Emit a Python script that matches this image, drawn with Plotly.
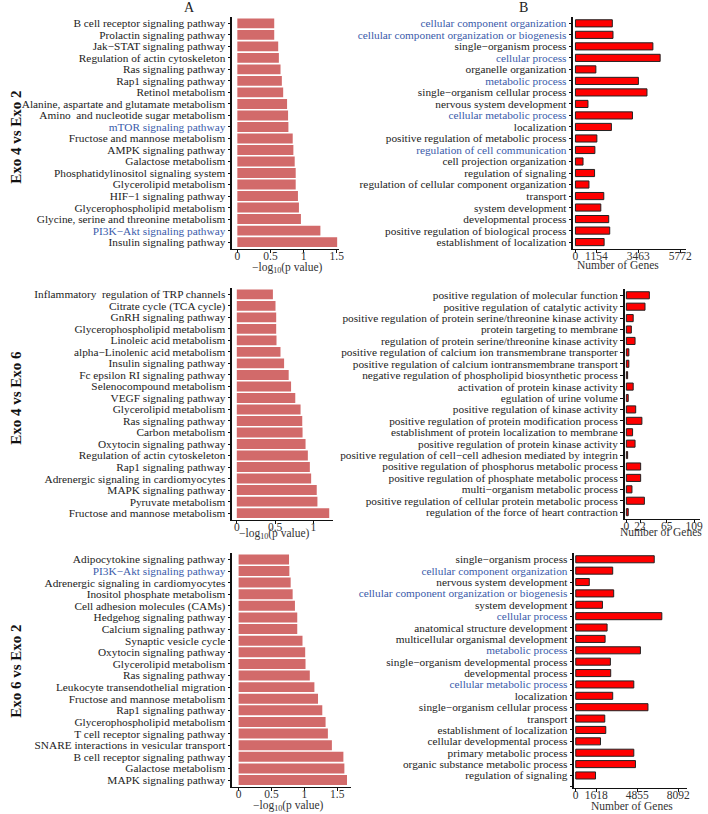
import plotly.graph_objects as go

W, H = 708, 814
BLUE = "#3A5BAA"

# ---------------- data ----------------
r1_left_terms = ["B cell receptor signaling pathway", "Prolactin signaling pathway", "Jak−STAT signaling pathway",
                 "Regulation of actin cytoskeleton", "Ras signaling pathway", "Rap1 signaling pathway",
                 "Retinol metabolism", "Alanine, aspartate and glutamate metabolism",
                 "Amino\u00a0 and nucleotide sugar metabolism", "mTOR signaling pathway",
                 "Fructose and mannose metabolism", "AMPK signaling pathway", "Galactose metabolism",
                 "Phosphatidylinositol signaling system", "Glycerolipid metabolism", "HIF−1 signaling pathway",
                 "Glycerophospholipid metabolism", "Glycine, serine and threonine metabolism",
                 "PI3K−Akt signaling pathway", "Insulin signaling pathway"]
r1_left_vals = [0.557, 0.557, 0.617, 0.627, 0.652, 0.672, 0.692, 0.751, 0.766, 0.771,
                0.836, 0.846, 0.866, 0.881, 0.881, 0.915, 0.930, 0.960, 1.254, 1.507]
r1_left_blue = ["mTOR signaling pathway", "PI3K−Akt signaling pathway"]

r1_right_terms = ["cellular component organization", "cellular component organization or biogenesis",
                  "single−organism process", "cellular process", "organelle organization", "metabolic process",
                  "single−organism cellular process", "nervous system development", "cellular metabolic process",
                  "localization", "positive regulation of metabolic process", "regulation of cell communication",
                  "cell projection organization", "regulation of signaling",
                  "regulation of cellular component organization", "transport", "system development",
                  "developmental process", "positive regulation of biological process",
                  "establishment of localization"]
r1_right_vals = [2031, 2068, 4265, 4665, 1125, 3467, 3939, 690, 3140, 1979,
                 1180, 1071, 417, 1053, 744, 1561, 1397, 1833, 1888, 1579]
r1_right_blue = ["cellular component organization", "cellular component organization or biogenesis",
                 "cellular process", "metabolic process", "cellular metabolic process",
                 "regulation of cell communication"]
r1_right_ticks = [0, 1154, 3463, 5772]

r2_left_terms = ["Inflammatory\u00a0 regulation of TRP channels", "Citrate cycle (TCA cycle)", "GnRH signaling pathway",
                 "Glycerophospholipid metabolism", "Linoleic acid metabolism", "alpha−Linolenic acid metabolism",
                 "Insulin signaling pathway", "Fc epsilon RI signaling pathway", "Selenocompound metabolism",
                 "VEGF signaling pathway", "Glycerolipid metabolism", "Ras signaling pathway", "Carbon metabolism",
                 "Oxytocin signaling pathway", "Regulation of actin cytoskeleton", "Rap1 signaling pathway",
                 "Adrenergic signaling in cardiomyocytes", "MAPK signaling pathway", "Pyruvate metabolism",
                 "Fructose and mannose metabolism"]
r2_left_vals = [0.471, 0.505, 0.514, 0.514, 0.518, 0.570, 0.617, 0.677, 0.708, 0.763,
                0.832, 0.854, 0.858, 0.897, 0.927, 0.953, 0.970, 1.043, 1.052, 1.206]
r2_left_ticks = [0, 0.5, 1]

r2_right_terms = ["positive regulation of molecular function", "positive regulation of catalytic activity",
                  "positive regulation of protein serine/threonine kinase activity", "protein targeting to membrane",
                  "regulation of protein serine/threonine kinase activity",
                  "positive regulation of calcium ion transmembrane transporter",
                  "positive regulation of calcium iontransmembrane transport",
                  "negative regulation of phospholipid biosynthetic process", "activation of protein kinase activity",
                  "egulation of urine volume", "positive regulation of kinase activity",
                  "positive regulation of protein modification process",
                  "establishment of protein localization to membrane", "positive regulation of protein kinase activity",
                  "positive regulation of cell−cell adhesion mediated by integrin",
                  "positive regulation of phosphorus metabolic process",
                  "positive regulation of phosphate metabolic process", "multi−organism metabolic process",
                  "positive regulation of cellular protein metabolic process",
                  "regulation of the force of heart contraction"]
r2_right_vals = [37, 30, 11, 8, 14, 4, 4, 2, 11, 3, 15, 25, 10, 14, 2, 23, 23, 9, 29, 3]
r2_right_ticks = [0, 22, 65, 109]

r3_left_terms = ["Adipocytokine signaling pathway", "PI3K−Akt signaling pathway",
                 "Adrenergic signaling in cardiomyocytes", "Inositol phosphate metabolism",
                 "Cell adhesion molecules (CAMs)", "Hedgehog signaling pathway", "Calcium signaling pathway",
                 "Synaptic vesicle cycle", "Oxytocin signaling pathway", "Glycerolipid metabolism",
                 "Ras signaling pathway", "Leukocyte transendothelial migration", "Fructose and mannose metabolism",
                 "Rap1 signaling pathway", "Glycerophospholipid metabolism", "T cell receptor signaling pathway",
                 "SNARE interactions in vesicular transport", "B cell receptor signaling pathway",
                 "Galactose metabolism", "MAPK signaling pathway"]
r3_left_vals = [0.767, 0.772, 0.792, 0.822, 0.857, 0.892, 0.892, 0.972, 1.013, 1.018,
                1.083, 1.153, 1.208, 1.273, 1.323, 1.358, 1.419, 1.594, 1.609, 1.649]
r3_left_blue = ["PI3K−Akt signaling pathway"]

r3_right_terms = ["single−organism process", "cellular component organization", "nervous system development",
                  "cellular component organization or biogenesis", "system development", "cellular process",
                  "anatomical structure development", "multicellular organismal development", "metabolic process",
                  "single−organism developmental process", "developmental process", "cellular metabolic process",
                  "localization", "single−organism cellular process", "transport", "establishment of localization",
                  "cellular developmental process", "primary metabolic process",
                  "organic substance metabolic process", "regulation of signaling"]
r3_right_vals = [6193, 2916, 1069, 2994, 2107, 6790, 2473, 2317, 5101, 2733,
                 2759, 4580, 2916, 5698, 2291, 2369, 1953, 4580, 4711, 1561]
r3_right_blue = ["cellular component organization", "cellular component organization or biogenesis",
                 "cellular process", "metabolic process", "cellular metabolic process"]
r3_right_ticks = [0, 1618, 4855, 8092]

left_ticks = [0, 0.5, 1, 1.5]
row_titles = ["Exo 4 vs Exo 2", "Exo 4 vs Exo 6", "Exo 6 vs Exo 2"]


def px(x):
    return x / W


def py(y):
    return 1 - y / H


# ---------------- layout geometry (window pixels) ----------------
panels = [
    # terms, vals, blue, kind, ticks, px_left, px_right, px_top, px_bottom, xrange, ypad, extra_tick
    (r1_left_terms, r1_left_vals, r1_left_blue, "L", left_ticks, 233, 341, 17, 249, [-0.075, 1.537], 0.1, False),
    (r1_right_terms, r1_right_vals, r1_right_blue, "R", r1_right_ticks, 578, 692, 17, 249, [-109, 6099], 0.1, False),
    (r2_left_terms, r2_left_vals, [], "L", r2_left_ticks, 233, 335, 288, 520, [-0.058, 1.258], 0.1, False),
    (r2_right_terms, r2_right_vals, [], "R", r2_right_ticks, 630, 706, 289, 519, [-2.4, 118.6], 0.1, False),
    (r3_left_terms, r3_left_vals, r3_left_blue, "L", left_ticks, 233, 353, 553, 787, [-0.095, 1.71], 0.1, False),
    (r3_right_terms, r3_right_vals, r3_right_blue, "R", r3_right_ticks, 579, 693, 553, 788, [-101, 8790], 0.6, True),
]

fig = go.Figure()
FONT = "Liberation Serif, Times New Roman, serif"

for i, (terms, vals, blue, kind, ticks, pl, pr, pt, pb, xr, ypad, extra) in enumerate(panels):
    n = len(terms)
    idx = i + 1
    xa = "x" if idx == 1 else f"x{idx}"
    ya = "y" if idx == 1 else f"y{idx}"
    pos = list(range(n))
    if kind == "L":
        fig.add_trace(go.Bar(x=vals, y=pos, orientation="h", xaxis=xa, yaxis=ya,
                             marker=dict(color="#D26A6A", line=dict(width=0)), width=0.86,
                             showlegend=False, hoverinfo="x"))
    else:
        fig.add_trace(go.Bar(x=vals, y=pos, orientation="h", xaxis=xa, yaxis=ya,
                             marker=dict(color="#FF0000", line=dict(width=1, color="#222222")), width=0.62,
                             showlegend=False, hoverinfo="x"))
    ticktext = [f"<span style='color:{BLUE}'>{t}</span>" if t in blue else t for t in terms]
    tickvals = list(pos)
    if extra:
        tickvals = tickvals + [n]
        ticktext = ticktext + [""]
    xkey = "xaxis" if idx == 1 else f"xaxis{idx}"
    ykey = "yaxis" if idx == 1 else f"yaxis{idx}"
    fig.update_layout(**{
        xkey: dict(domain=[px(pl), px(pr)], anchor=ya, range=xr, tickvals=ticks,
                   ticktext=[f"{t:g}" for t in ticks], showgrid=False, zeroline=False,
                   showline=True, linecolor="#111", linewidth=1.3, ticks="outside", ticklen=3,
                   tickcolor="#111", tickfont=dict(family=FONT, size=11.5, color="#333"),
                   ticklabelstandoff=-7),
        ykey: dict(domain=[py(pb), py(pt)], anchor=xa, range=[n - 0.5 + ypad, -0.5 - 0.05],
                   tickvals=tickvals, ticktext=ticktext, showgrid=False, zeroline=False,
                   showline=True, linecolor="#111", linewidth=1.5, ticks="outside", ticklen=3,
                   tickcolor="#111", tickfont=dict(family=FONT, size=11.3, color="#222"),
                   ticklabelstandoff=0),
    })

ann = []
# panel letters
ann.append(dict(text="A", x=px(190), y=py(7), font=dict(family=FONT, size=14, color="#222")))
ann.append(dict(text="B", x=px(527), y=py(7), font=dict(family=FONT, size=14, color="#222")))
# row titles
for t, cy in zip(row_titles, [137, 398, 671]):
    ann.append(dict(text=f"<b>{t}</b>", x=px(14), y=py(cy), textangle=-90,
                    font=dict(family=FONT, size=15, color="#111")))
# axis titles
for cx, cy in [(289, 268), (276, 534), (290, 806)]:
    ann.append(dict(text="−log<sub>10</sub>(p value)", x=px(cx), y=py(cy),
                    font=dict(family=FONT, size=11.5, color="#333")))
for cx, cy in [(623, 265), (667, 532), (637, 806)]:
    ann.append(dict(text="Number of Genes", x=px(cx), y=py(cy),
                    font=dict(family=FONT, size=11.5, color="#333")))
for a in ann:
    a.update(xref="paper", yref="paper", xanchor="center", yanchor="middle", showarrow=False)

fig.update_layout(width=W, height=H, margin=dict(l=0, r=0, t=0, b=0),
                  paper_bgcolor="white", plot_bgcolor="white", bargap=0.1,
                  annotations=ann, font=dict(family=FONT))

# remove the browser's default 8px body margin so the figure fills the window exactly
fig.write_html("out.html", config={"displayModeBar": False},
               post_script="document.body.style.margin='0px';document.body.style.overflow='hidden';")
